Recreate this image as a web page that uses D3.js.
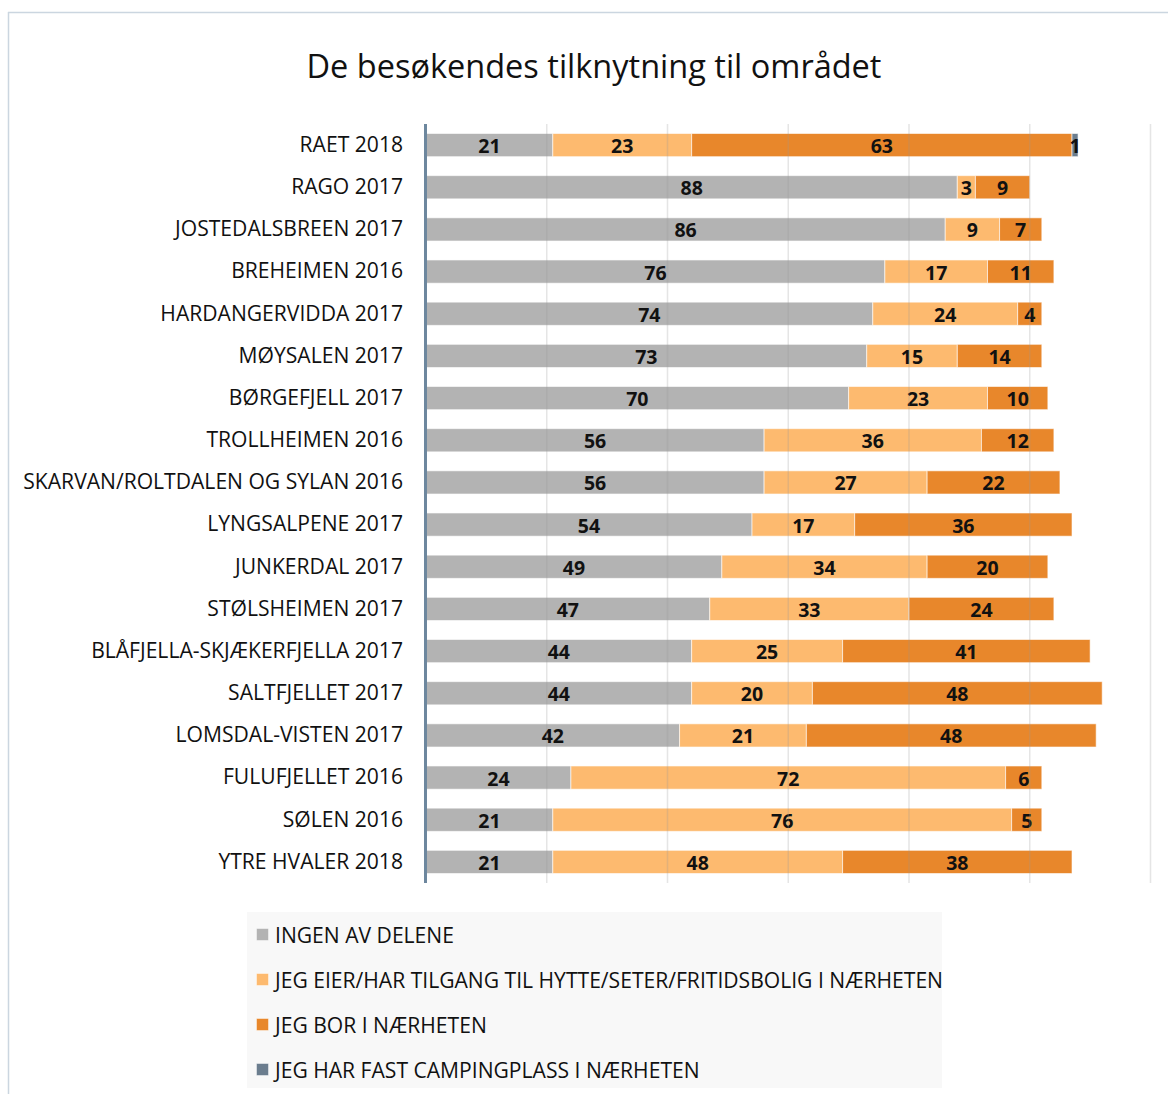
<!DOCTYPE html>
<html>
<head>
<meta charset="utf-8">
<script src="https://cdn.jsdelivr.net/npm/d3@7"></script>
<style>
  body { margin: 0; background: #fff; }
  text { font-family: "Open Sans", "Noto Sans", sans-serif; }
</style>
</head>
<body>
<svg width="1168" height="1095"></svg>
<script>
var width = 1168,
    height = 1095;

var areas = ["RAET 2018", "RAGO 2017", "JOSTEDALSBREEN 2017", "BREHEIMEN 2016",
  "HARDANGERVIDDA 2017", "MØYSALEN 2017", "BØRGEFJELL 2017", "TROLLHEIMEN 2016",
  "SKARVAN/ROLTDALEN OG SYLAN 2016", "LYNGSALPENE 2017", "JUNKERDAL 2017",
  "STØLSHEIMEN 2017", "BLÅFJELLA-SKJÆKERFJELLA 2017", "SALTFJELLET 2017",
  "LOMSDAL-VISTEN 2017", "FULUFJELLET 2016", "SØLEN 2016", "YTRE HVALER 2018"];

var ingen   = [21, 88, 86, 76, 74, 73, 70, 56, 56, 54, 49, 47, 44, 44, 42, 24, 21, 21];
var hytte   = [23, 3, 9, 17, 24, 15, 23, 36, 27, 17, 34, 33, 25, 20, 21, 72, 76, 48];
var bor     = [63, 9, 7, 11, 4, 14, 10, 12, 22, 36, 20, 24, 41, 48, 48, 6, 5, 38];
var camping = [1, 0, 0, 0, 0, 0, 0, 0, 0, 0, 0, 0, 0, 0, 0, 0, 0, 0];

var seriesNames = ["INGEN AV DELENE",
  "JEG EIER/HAR TILGANG TIL HYTTE/SETER/FRITIDSBOLIG I NÆRHETEN",
  "JEG BOR I NÆRHETEN",
  "JEG HAR FAST CAMPINGPLASS I NÆRHETEN"];
var seriesColors = ["#b3b3b3", "#fdba6f", "#e8872b", "#6b7d8e"];
var gridTicks = [20, 40, 60, 80, 100, 120];

// build rows for stacking
var rows = areas.map(function (a, i) {
  return { area: a, s0: ingen[i], s1: hytte[i], s2: bor[i], s3: camping[i] };
});
var keys = ["s0", "s1", "s2", "s3"];
var stacked = d3.stack().keys(keys)(rows);

var svg = d3.select("svg");

// outer frame (top + left only visible)
svg.append("line").attr("x1", 8).attr("x2", width).attr("y1", 12.5).attr("y2", 12.5)
   .attr("stroke", "#cbd6e0").attr("stroke-width", 1.5);
svg.append("line").attr("x1", 8.5).attr("x2", 8.5).attr("y1", 12).attr("y2", 1094)
   .attr("stroke", "#cbd6e0").attr("stroke-width", 1.5);

svg.append("text")
   .attr("x", 594).attr("y", 78)
   .attr("text-anchor", "middle")
   .attr("font-size", 32.5)
   .attr("fill", "#111")
   .text("De besøkendes tilknytning til området");

var x = d3.scaleLinear().domain([0, 120]).range([426, 1150.5]);
var y = d3.scaleBand().domain(areas).range([124, 883]).paddingInner(0.45).paddingOuter(0.225);

// bars
var layer = svg.append("g").selectAll("g")
  .data(stacked)
  .enter().append("g")
  .attr("fill", function (d, i) { return seriesColors[i]; });

layer.selectAll("rect")
  .data(function (d) { return d.filter(function (p) { return p[1] - p[0] > 0; }); })
  .enter().append("rect")
  .attr("x", function (d) { return x(d[0]); })
  .attr("width", function (d) { return x(d[1]) - x(d[0]); })
  .attr("y", function (d) { return y(d.data.area); })
  .attr("height", y.bandwidth())
  .attr("stroke", "rgba(255,255,255,0.6)")
  .attr("stroke-width", 1);

// gridlines drawn over bars (faint)
svg.append("g").selectAll("line")
  .data(gridTicks)
  .enter().append("line")
  .attr("x1", function (d) { return x(d); })
  .attr("x2", function (d) { return x(d); })
  .attr("y1", 124).attr("y2", 883)
  .attr("stroke", "rgba(150,150,150,0.25)")
  .attr("stroke-width", 1.5);

// value labels
layer.each(function (s) {
  d3.select(this).selectAll("text")
    .data(s.filter(function (p) { return p[1] - p[0] > 0; }))
    .enter().append("text")
    .attr("x", function (d) { return (x(d[0]) + x(d[1])) / 2; })
    .attr("y", function (d) { return y(d.data.area) + y.bandwidth() / 2 + 1; })
    .attr("dy", "0.36em")
    .attr("text-anchor", "middle")
    .attr("font-size", 19.5)
    .attr("font-weight", "bold")
    .attr("fill", "#111")
    .text(function (d) { return d[1] - d[0]; });
});

// y axis
var yAxis = svg.append("g")
  .attr("transform", "translate(" + 425 + ",0)")
  .call(d3.axisLeft(y).tickSize(0).tickPadding(22));
yAxis.select(".domain").remove();
yAxis.selectAll("text")
  .attr("font-size", 21.1)
  .attr("fill", "#111")
  .style("font-family", "'Open Sans', 'Noto Sans', sans-serif");
svg.append("line")
  .attr("x1", 425.5).attr("x2", 425.5).attr("y1", 124).attr("y2", 883)
  .attr("stroke", "#6d879e").attr("stroke-width", 3);

// legend
var legend = svg.append("g");
legend.append("rect")
  .attr("x", 247).attr("y", 912).attr("width", 695).attr("height", 176)
  .attr("fill", "#f8f8f8");
var item = legend.selectAll("g.item")
  .data(seriesNames)
  .enter().append("g")
  .attr("class", "item")
  .attr("transform", function (d, i) { return "translate(256," + (935 + i * 45) + ")"; });
item.append("rect")
  .attr("x", 0.5).attr("y", -6.5).attr("width", 12).attr("height", 12)
  .attr("fill", function (d, i) { return seriesColors[i]; })
  .attr("stroke", "rgba(255,255,255,0.45)");
item.append("text")
  .attr("x", 19).attr("dy", "0.36em")
  .attr("font-size", 21.1)
  .attr("fill", "#111")
  .text(function (d) { return d; });
</script>
</body>
</html>
